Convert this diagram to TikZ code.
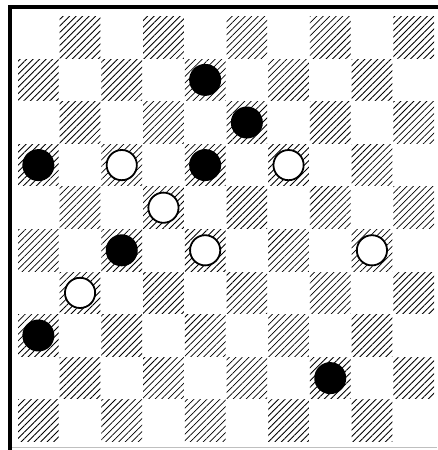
\documentclass[tikz,border=0pt]{standalone}
\usetikzlibrary{patterns.meta}

\begin{document}
\begin{tikzpicture}[x=1pt,y=-1pt,
    darksq/.style={pattern={Lines[angle=45,distance=4.6pt,line width=0.8pt]},pattern color=black},
    blackman/.style={circle,fill=black,minimum size=32pt,inner sep=0pt},
    whiteman/.style={circle,draw=black,line width=1.8pt,fill=white,minimum size=30.2pt,inner sep=0pt},
    rim/.style={line width=4pt,line cap=rect},
]
\useasboundingbox (0,0) rectangle (437,450);
\def\sqw{41.7} \def\sqh{42.6}

% ---------- hatched dark squares ----------
\foreach \r in {0,...,9}{
  \foreach \c in {0,...,9}{
    \pgfmathparse{int(mod(\r+\c,2))}
    \ifnum\pgfmathresult=1
      \fill[darksq] (17.5+\c*\sqw+0.5, 16+\r*\sqh+0.5) rectangle ++(\sqw-1,\sqh-1);
    \fi
  }
}

% ---------- board rim ----------
\draw[rim] (10,452) -- (10,7) -- (439,7);
\draw[black!25,line width=0.8pt] (12,447.5) -- (437,447.5);

% ---------- pieces ----------
\foreach \nm/\c/\r/\kind in {b1/4/1/blackman, b2/5/2/blackman, b3/0/3/blackman, w1/2/3/whiteman,
    b4/4/3/blackman, w2/6/3/whiteman, w3/3/4/whiteman, b5/2/5/blackman, w4/4/5/whiteman,
    w5/8/5/whiteman, w6/1/6/whiteman, b6/0/7/blackman, b7/7/8/blackman}{
  \node[\kind] (\nm) at (17.5+\c*\sqw+\sqw/2, 16+\r*\sqh+\sqh/2) {};
}

\end{tikzpicture}
\end{document}
